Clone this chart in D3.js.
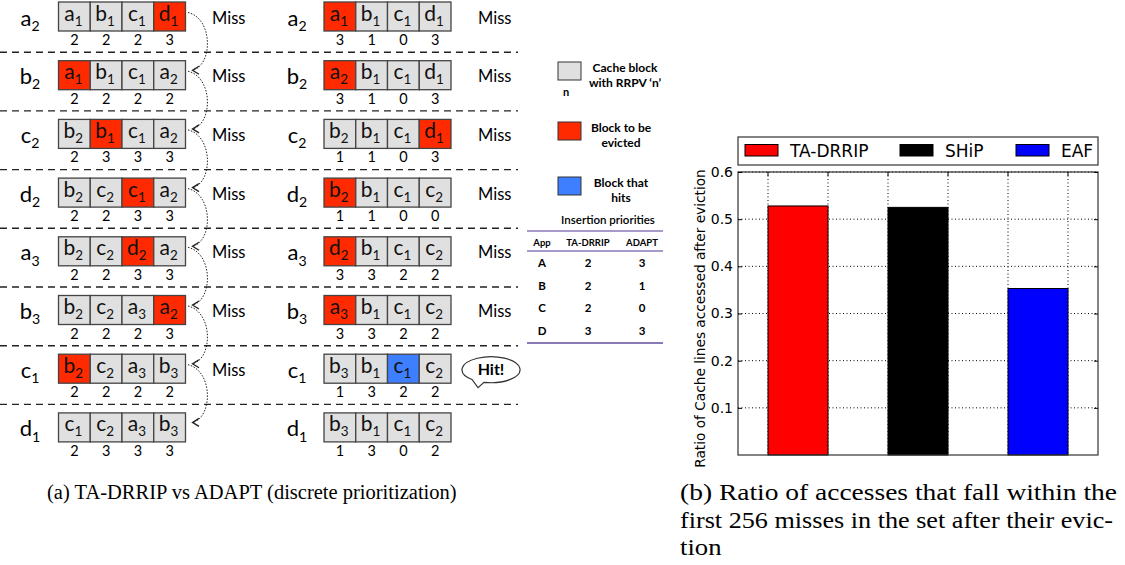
<!DOCTYPE html>
<html>
<head>
<meta charset="utf-8">
<script src="https://cdn.jsdelivr.net/npm/d3@7"></script>
<style>
body { margin: 0; background: #fff; }
</style>
</head>
<body>
<svg id="fig" width="1125" height="565"></svg>
<script>
// ---- data: cache set walkthrough ----
var requests = ["a2", "b2", "c2", "d2", "a3", "b3", "c1", "d1"];

var drripBlocks = [
    ["a1", "b1", "c1", "d1"], ["a1", "b1", "c1", "a2"], ["b2", "b1", "c1", "a2"], ["b2", "c2", "c1", "a2"],
    ["b2", "c2", "d2", "a2"], ["b2", "c2", "a3", "a2"], ["b2", "c2", "a3", "b3"], ["c1", "c2", "a3", "b3"]];
var drripRrpv = [[2, 2, 2, 3], [2, 2, 2, 2], [2, 3, 3, 3], [2, 2, 3, 3],
    [2, 2, 3, 3], [2, 2, 2, 3], [2, 2, 2, 2], [2, 3, 3, 3]];
var drripEvict = [3, 0, 1, 2, 2, 3, 0, -1];
var drripOutcome = ["Miss", "Miss", "Miss", "Miss", "Miss", "Miss", "Miss", ""];

var adaptBlocks = [
    ["a1", "b1", "c1", "d1"], ["a2", "b1", "c1", "d1"], ["b2", "b1", "c1", "d1"], ["b2", "b1", "c1", "c2"],
    ["d2", "b1", "c1", "c2"], ["a3", "b1", "c1", "c2"], ["b3", "b1", "c1", "c2"], ["b3", "b1", "c1", "c2"]];
var adaptRrpv = [[3, 1, 0, 3], [3, 1, 0, 3], [1, 1, 0, 3], [1, 1, 0, 0],
    [3, 3, 2, 2], [3, 3, 2, 2], [1, 3, 2, 2], [1, 3, 0, 2]];
var adaptEvict = [0, 0, 3, 0, 0, 0, -1, -1];
var adaptHit = [-1, -1, -1, -1, -1, -1, 2, -1];
var adaptOutcome = ["Miss", "Miss", "Miss", "Miss", "Miss", "Miss", "Hit!", ""];

var legendItems = [["Cache block", "with RRPV \u2018n\u2019"], ["Block to be", "evicted"], ["Block that", "hits"]];

var priorityHeader = ["App", "TA-DRRIP", "ADAPT"];
var priorityApps = ["A", "B", "C", "D"];
var priorityDrrip = [2, 2, 2, 3];
var priorityAdapt = [3, 1, 0, 3];

// ---- data: bar chart ----
var policies = ["TA-DRRIP", "SHiP", "EAF"];
var ratios = [0.528, 0.525, 0.353];
var yTicks = [0.1, 0.2, 0.3, 0.4, 0.5, 0.6];

var captionA = "(a) TA-DRRIP vs ADAPT (discrete prioritization)";
var captionB = ["(b) Ratio of accesses that fall within the",
    "first 256 misses in the set after their evic-",
    "tion"];

var svg = d3.select("#fig");
var diagFont = "Lato, 'Open Sans', sans-serif";
var GREY = "#e0e0e0", RED = "#ff2a00", BLUE = "#3d7fff";

var rowY = d3.scaleLinear().domain([0, 7]).range([2, 2 + 58.7 * 7]);
var boxH = 29;
var slotsL = d3.scaleBand().domain([0, 1, 2, 3]).range([58.5, 185.5]);
var slotsR = d3.scaleBand().domain([0, 1, 2, 3]).range([324, 451]);

function subLabel(sel, label, size) {
    sel.append("tspan").text(label[0]);
    sel.append("tspan").attr("font-size", size * 0.64).attr("dy", size * 0.24).text(label.slice(1));
}

// separators
svg.append("g").selectAll("line").data(d3.range(1, 8)).enter().append("line")
    .attr("x1", 0).attr("x2", 518)
    .attr("y1", d => rowY(d) - 8.5).attr("y2", d => rowY(d) - 8.5)
    .attr("stroke", "#222").attr("stroke-width", 1.4).attr("stroke-dasharray", "7,5");

function drawPanel(x, labelX, outcomeX, blocks, rrpv, evict, hit, outcome) {
    var g = svg.append("g");
    requests.forEach(function (req, r) {
        var top = rowY(r);
        var t = g.append("text").attr("x", labelX).attr("y", top + boxH / 2 + 9)
            .attr("text-anchor", "middle").attr("font-family", diagFont).attr("font-size", 22);
        subLabel(t, req, 22);
        blocks[r].forEach(function (b, i) {
            var fill = i === evict[r] ? RED : (hit && i === hit[r] ? BLUE : GREY);
            g.append("rect").attr("x", x(i)).attr("y", top).attr("width", x.bandwidth()).attr("height", boxH)
                .attr("fill", fill).attr("stroke", "#444").attr("stroke-width", 1.3);
            var bt = g.append("text").attr("x", x(i) + x.bandwidth() / 2 - 1).attr("y", top + boxH / 2 + 4)
                .attr("text-anchor", "middle").attr("font-family", diagFont).attr("font-size", 21).attr("fill", "#111");
            subLabel(bt, b, 21);
            g.append("text").attr("x", x(i) + x.bandwidth() / 2).attr("y", top + boxH + 14)
                .attr("text-anchor", "middle").attr("font-family", diagFont).attr("font-size", 14.5)
                .text(rrpv[r][i]);
        });
        if (outcome[r] === "Miss") {
            g.append("text").attr("x", outcomeX).attr("y", top + boxH / 2 + 7)
                .attr("font-family", diagFont).attr("font-size", 16.5).text("Miss");
        }
    });
}

drawPanel(slotsL, 30, 212, drripBlocks, drripRrpv, drripEvict, null, drripOutcome);
drawPanel(slotsR, 297, 478, adaptBlocks, adaptRrpv, adaptEvict, adaptHit, adaptOutcome);

// dotted arrows in the TA-DRRIP panel
var arrows = svg.append("g").attr("fill", "none").attr("stroke", "#222");
d3.range(0, 7).forEach(function (r) {
    var ys = rowY(r) + boxH / 2 - 4, ye = rowY(r + 1) + boxH / 2 - 5;
    arrows.append("path")
        .attr("d", "M188," + ys + " C213," + (ys + 6) + " 213," + (ye - 6) + " 193," + ye)
        .attr("stroke-width", 1).attr("stroke-dasharray", "1.5,1.5");
    arrows.append("path")
        .attr("d", "M199," + (ye - 4) + " L192.5," + ye + " L199," + (ye + 4))
        .attr("stroke-width", 1.3);
});

// hit bubble
var hitRow = adaptOutcome.indexOf("Hit!");
var hy = rowY(hitRow) + boxH / 2 + 1;
var bub = svg.append("g");
bub.append("path")
    .attr("d", "M472," + (hy + 9.8) + " A29 13 0 1 1 484," + (hy + 12.6) + " L478," + (hy + 18) + " Z")
    .attr("fill", "#fff").attr("stroke", "#333").attr("stroke-width", 1.2);
bub.append("text").attr("x", 491).attr("y", hy + 5.5).attr("text-anchor", "middle")
    .attr("font-family", diagFont).attr("font-weight", "bold").attr("font-size", 16).text("Hit!");

// legend
var leg = svg.append("g").attr("font-family", diagFont).attr("font-weight", "bold").attr("font-size", 12);
var legColors = [GREY, RED, BLUE];
var legY = [62, 122, 177];
legendItems.forEach(function (lines, i) {
    leg.append("rect").attr("x", 558).attr("y", legY[i]).attr("width", 23).attr("height", 18)
        .attr("fill", legColors[i]).attr("stroke", "#333").attr("stroke-width", 1);
    lines.forEach(function (l, j) {
        leg.append("text").attr("x", i === 0 ? 625 : 621).attr("y", legY[i] + 10 + j * 14.5)
            .attr("text-anchor", "middle").text(l);
    });
});
leg.append("text").attr("x", 563).attr("y", 96).attr("font-size", 11).text("n");

// insertion priority table
var tab = svg.append("g").attr("font-family", diagFont).attr("font-weight", "bold");
var colX = [542, 588, 642];
tab.append("text").attr("x", 608).attr("y", 224).attr("text-anchor", "middle").attr("font-size", 11.5)
    .attr("font-weight", "600").text("Insertion priorities");
[231, 251, 343].forEach(function (y) {
    tab.append("line").attr("x1", 527).attr("x2", 663).attr("y1", y).attr("y2", y)
        .attr("stroke", "#8a79b8").attr("stroke-width", y === 343 ? 2 : 1.5);
});
priorityHeader.forEach(function (h, i) {
    tab.append("text").attr("x", colX[i]).attr("y", 246).attr("text-anchor", "middle").attr("font-size", 9.5).text(h);
});
var rowYs = d3.scalePoint().domain(priorityApps).range([267, 335]);
priorityApps.forEach(function (a, i) {
    [a, priorityDrrip[i], priorityAdapt[i]].forEach(function (v, j) {
        tab.append("text").attr("x", colX[j]).attr("y", rowYs(a)).attr("text-anchor", "middle")
            .attr("font-size", 11.5).text(v);
    });
});

// ---- bar chart ----
var plot = {left: 738, right: 1098, top: 172, bottom: 455};
var x = d3.scaleBand().domain(policies).range([plot.left, plot.right]).paddingInner(0.5).paddingOuter(0.25);
var y = d3.scaleLinear().domain([0, 0.6]).range([plot.bottom, plot.top]);
var barColors = ["#ff0000", "#000000", "#0000ff"];
var chart = svg.append("g").attr("font-family", "'DejaVu Sans', sans-serif");

var edges = [];
policies.forEach(function (p) { edges.push(x(p), x(p) + x.bandwidth()); });

chart.append("g").selectAll("line").data(yTicks).enter().append("line")
    .attr("x1", plot.left).attr("x2", plot.right).attr("y1", d => y(d)).attr("y2", d => y(d))
    .attr("stroke", "#000").attr("stroke-width", 1).attr("stroke-dasharray", "1,2.5");
chart.append("g").selectAll("line").data(edges).enter().append("line")
    .attr("x1", d => d).attr("x2", d => d).attr("y1", plot.top).attr("y2", plot.bottom)
    .attr("stroke", "#000").attr("stroke-width", 1).attr("stroke-dasharray", "1,2.5");

chart.append("g").selectAll("rect").data(policies).enter().append("rect")
    .attr("x", d => x(d)).attr("width", x.bandwidth())
    .attr("y", (d, i) => y(ratios[i])).attr("height", (d, i) => plot.bottom - y(ratios[i]))
    .attr("fill", (d, i) => barColors[i]).attr("stroke", "#000").attr("stroke-width", 1);

chart.append("rect").attr("x", plot.left).attr("y", plot.top)
    .attr("width", plot.right - plot.left).attr("height", plot.bottom - plot.top)
    .attr("fill", "none").attr("stroke", "#333").attr("stroke-width", 1.2);

var yAxis = chart.append("g").attr("transform", "translate(" + plot.left + ",0)")
    .call(d3.axisLeft(y).tickValues(yTicks).tickFormat(d3.format(".1f")).tickSizeInner(-4).tickSizeOuter(0).tickPadding(5));
yAxis.select(".domain").remove();
yAxis.selectAll("text").attr("font-size", 14).attr("fill", "#000").attr("font-family", "'DejaVu Sans', sans-serif");
chart.append("g").attr("transform", "translate(" + plot.right + ",0)")
    .call(d3.axisRight(y).tickValues(yTicks).tickFormat("").tickSizeInner(-4).tickSizeOuter(0))
    .select(".domain").remove();
chart.selectAll(".tick line").attr("stroke", "#000");
chart.selectAll("line.edge").data(edges).enter().append("line").attr("class", "edge")
    .attr("x1", d => d).attr("x2", d => d).attr("y1", plot.top).attr("y2", plot.top + 4)
    .attr("stroke", "#000");

chart.append("text").attr("transform", "translate(705," + ((plot.top + plot.bottom) / 2 + 5) + ") rotate(-90)")
    .attr("text-anchor", "middle").attr("font-size", 13.7).text("Ratio of Cache lines accessed after eviction");

// chart legend
var lg = chart.append("g");
lg.append("rect").attr("x", 738).attr("y", 137).attr("width", 360).attr("height", 28)
    .attr("fill", "#fff").attr("stroke", "#333").attr("stroke-width", 1.2);
var legSwX = [745, 900, 1016];
policies.forEach(function (p, i) {
    lg.append("rect").attr("x", legSwX[i]).attr("y", 144.5).attr("width", 33).attr("height", 11.5)
        .attr("fill", barColors[i]).attr("stroke", "#000").attr("stroke-width", 1);
    lg.append("text").attr("x", legSwX[i] + 45).attr("y", 157).attr("font-size", 17).text(p);
});

// captions (b is justified to the column width like the LaTeX original)
var cap = svg.append("g").attr("font-family", "'Liberation Serif', 'DejaVu Serif', serif");
cap.append("text").attr("x", 47).attr("y", 499).attr("font-size", 20.5).text(captionA);
var capWidths = [437, 433, 0];
captionB.forEach(function (l, i) {
    var t = cap.append("text").attr("x", 680).attr("y", 500 + i * 27.5).attr("font-size", 23).text(l);
    if (capWidths[i]) t.attr("textLength", capWidths[i]).attr("lengthAdjust", "spacingAndGlyphs");
    else t.attr("transform", "translate(-108.8,0) scale(1.16,1)");
});
</script>
</body>
</html>
